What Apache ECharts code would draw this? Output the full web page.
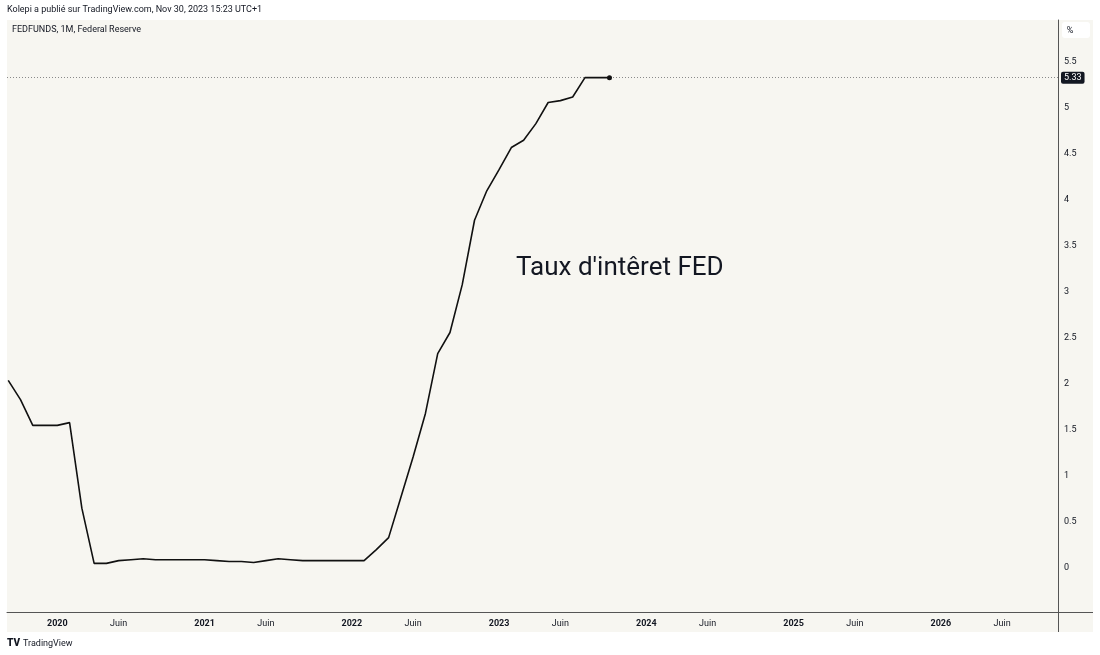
<!DOCTYPE html>
<html>
<head>
<meta charset="utf-8">
<script src="https://cdn.jsdelivr.net/npm/echarts@6/dist/echarts.min.js"></script>
<style>
  html, body { margin: 0; padding: 0; background: #ffffff; }
  #chart { width: 1100px; height: 655px; }
</style>
</head>
<body>
<div id="chart"></div>
<script>
// ---- Data ----
const months = [
  '2019-09','2019-10','2019-11','2019-12',
  '2020-01','2020-02','2020-03','2020-04','2020-05','2020-06','2020-07','2020-08','2020-09','2020-10','2020-11','2020-12',
  '2021-01','2021-02','2021-03','2021-04','2021-05','2021-06','2021-07','2021-08','2021-09','2021-10','2021-11','2021-12',
  '2022-01','2022-02','2022-03','2022-04','2022-05','2022-06','2022-07','2022-08','2022-09','2022-10','2022-11','2022-12',
  '2023-01','2023-02','2023-03','2023-04','2023-05','2023-06','2023-07','2023-08','2023-09','2023-10'
];
const fedFunds = [
  2.04, 1.83, 1.55, 1.55,
  1.55, 1.58, 0.65, 0.05, 0.05, 0.08, 0.09, 0.10, 0.09, 0.09, 0.09, 0.09,
  0.09, 0.08, 0.07, 0.07, 0.06, 0.08, 0.10, 0.09, 0.08, 0.08, 0.08, 0.08,
  0.08, 0.08, 0.20, 0.33, 0.77, 1.21, 1.68, 2.33, 2.56, 3.08, 3.78, 4.10,
  4.33, 4.57, 4.65, 4.83, 5.06, 5.08, 5.12, 5.33, 5.33, 5.33
];
const xTickMonths = ['2020-01','2020-06','2021-01','2021-06','2022-01','2022-06','2023-01','2023-06','2024-01','2024-06','2025-01','2025-06','2026-01','2026-06'];
const xTickLabels = ['2020','Juin','2021','Juin','2022','Juin','2023','Juin','2024','Juin','2025','Juin','2026','Juin'];
const yTickValues = [0, 0.5, 1, 1.5, 2, 2.5, 3, 3.5, 4, 4.5, 5, 5.5];

// ---- Helpers ----
function monthIndex(s) {
  const [y, m] = s.split('-').map(Number);
  return (y - 2020) * 12 + (m - 1);
}
const seriesData = months.map((m, i) => [monthIndex(m), fedFunds[i]]);
const xTickIdx = xTickMonths.map(monthIndex);
const labelMap = {};
xTickIdx.forEach((v, i) => { labelMap[v] = xTickLabels[i]; });
const lastVal = fedFunds[fedFunds.length - 1];
const lastIndex = seriesData.length - 1;

const FONT = 'Roboto, "Noto Sans", sans-serif';
const TXT = '#131722';
const AXIS = '#555555';
const BG = '#f7f6f1';

const chart = echarts.init(document.getElementById('chart'), null, { renderer: 'canvas' });
chart.setOption({
  backgroundColor: '#ffffff',
  animation: false,
  textStyle: { fontFamily: FONT },
  grid: { left: 7, right: 42, top: 20, bottom: 43, containLabel: false },
  xAxis: {
    type: 'value',
    min: -4.1,
    max: 81.55,
    axisLine: { show: true, onZero: false, lineStyle: { color: AXIS, width: 1 } },
    axisTick: { show: false },
    splitLine: { show: false },
    axisLabel: {
      customValues: xTickIdx,
      margin: 7,
      color: TXT,
      fontSize: 9,
      fontFamily: FONT,
      formatter: function (v) {
        const t = labelMap[Math.round(v)];
        if (t === undefined) return '';
        return t === 'Juin' ? '{m|' + t + '}' : '{y|' + t + '}';
      },
      rich: {
        y: { fontSize: 9, fontWeight: 'bold', color: TXT, fontFamily: FONT },
        m: { fontSize: 9, fontWeight: 'normal', color: TXT, fontFamily: FONT }
      }
    }
  },
  yAxis: {
    type: 'value',
    position: 'right',
    min: -0.4783,
    max: 5.9565,
    axisLine: { show: true, onZero: false, lineStyle: { color: AXIS, width: 1 } },
    axisTick: { show: false },
    splitLine: { show: false },
    axisLabel: {
      customValues: yTickValues,
      margin: 6,
      color: TXT,
      fontSize: 9,
      fontFamily: FONT,
      align: 'left',
      padding: [3, 0, 0, 0]
    }
  },
  graphic: [
    { type: 'rect', z: -10, silent: true, shape: { x: 7, y: 20, width: 1086, height: 612 }, style: { fill: BG } },
    { type: 'line', z: 10, silent: true, shape: { x1: 1058.5, y1: 20, x2: 1058.5, y2: 632 }, style: { stroke: AXIS, lineWidth: 1 } },
    { type: 'line', z: 10, silent: true, shape: { x1: 7, y1: 612.5, x2: 1093, y2: 612.5 }, style: { stroke: AXIS, lineWidth: 1 } },
    { type: 'rect', z: 10, silent: true, shape: { x: 1062, y: 22, width: 28, height: 16, r: 3 }, style: { fill: '#ffffff' } },
    { type: 'text', z: 11, silent: true, style: { x: 1070, y: 31, text: '%', fill: TXT, fontSize: 9, fontFamily: FONT, align: 'center', verticalAlign: 'middle' } },
    { type: 'text', z: 11, silent: true, style: { x: 7, y: 10, text: 'Kolepi a publié sur TradingView.com, Nov 30, 2023 15:23 UTC+1', fill: TXT, fontSize: 9, fontFamily: FONT, verticalAlign: 'middle' } },
    { type: 'text', z: 11, silent: true, style: { x: 12, y: 29.5, text: 'FEDFUNDS, 1M, Federal Reserve', fill: TXT, fontSize: 9, fontFamily: FONT, verticalAlign: 'middle' } },
    { type: 'text', z: 11, silent: true, style: { x: 516, y: 268, text: "Taux d'intêret FED", fill: '#131722', fontSize: 26, fontFamily: FONT, verticalAlign: 'middle' } },
    { type: 'text', z: 11, silent: true, style: { x: 7, y: 643.5, text: 'TV', fill: '#131722', fontSize: 10, fontWeight: 900, fontFamily: FONT, verticalAlign: 'middle' } },
    { type: 'text', z: 11, silent: true, style: { x: 23, y: 643.5, text: 'TradingView', fill: TXT, fontSize: 9, fontFamily: FONT, verticalAlign: 'middle' } }
  ],
  series: [{
    type: 'line',
    data: seriesData,
    showSymbol: true,
    symbol: 'circle',
    symbolSize: function (val, params) { return params.dataIndex === lastIndex ? 5 : 0; },
    itemStyle: { color: '#111111' },
    lineStyle: { color: '#111111', width: 1.6 },
    clip: true,
    z: 5,
    markLine: {
      silent: true,
      symbol: ['none', 'none'],
      lineStyle: { color: '#8a8a8a', type: [1, 2], width: 1 },
      label: {
        show: true,
        position: 'end',
        distance: 3,
        formatter: lastVal.toFixed(2),
        color: '#ffffff',
        backgroundColor: '#131722',
        padding: [2, 3, 1, 3],
        borderRadius: 2,
        fontSize: 9,
        fontFamily: FONT
      },
      data: [{ yAxis: lastVal }]
    }
  }]
});
</script>
</body>
</html>
